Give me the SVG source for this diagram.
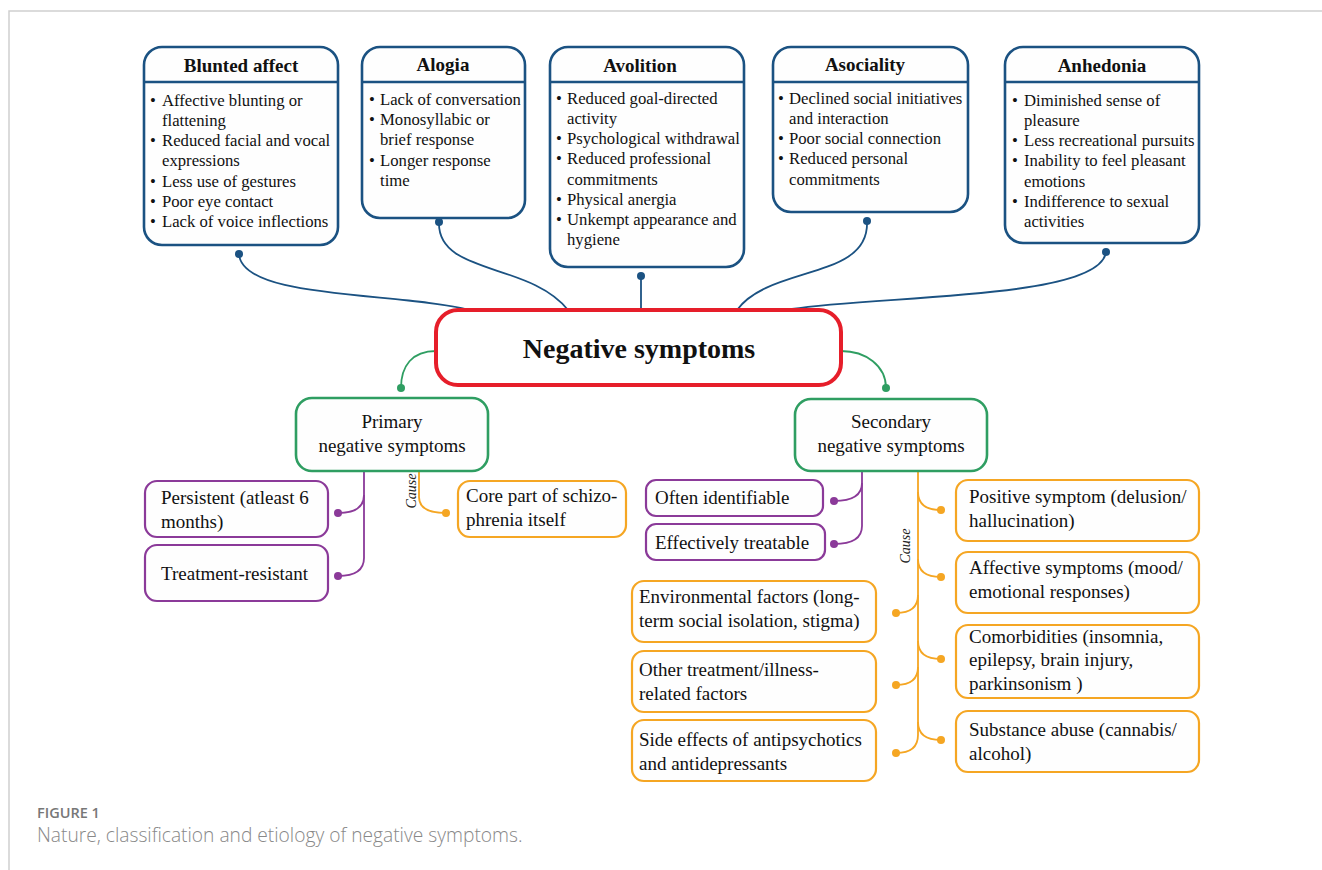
<svg xmlns="http://www.w3.org/2000/svg" width="1322" height="870" viewBox="0 0 1322 870">
<style>
.frame{fill:none;stroke:#cfcfcf;stroke-width:1.5}
.top{fill:#fefefe;stroke:#1b5282;stroke-width:2.6}
.div{stroke:#1b5282;stroke-width:2.6}
.ttl{font-family:"Liberation Serif",serif;font-weight:bold;font-size:19px;fill:#111;text-anchor:middle}
.bl{font-family:"Liberation Serif",serif;font-size:16.7px;fill:#111}
.main{fill:#fff;stroke:#e61e2a;stroke-width:4}
.mt{font-family:"Liberation Serif",serif;font-weight:bold;font-size:28px;fill:#111;text-anchor:middle}
.gb{fill:#fefefe;stroke:#2f9e62;stroke-width:2.6}
.pb{fill:#fefefe;stroke:#8b3a99;stroke-width:2.2}
.ob{fill:#fefefe;stroke:#f5a623;stroke-width:2.2}
.t{font-family:"Liberation Serif",serif;font-size:19px;fill:#111}
.tc{text-anchor:middle}
.cause{font-family:"Liberation Serif",serif;font-style:italic;font-size:14px;fill:#222;text-anchor:middle}
.cb{fill:none;stroke:#1b5282;stroke-width:1.8}
.cg{fill:none;stroke:#2f9e62;stroke-width:1.8}
.cp{fill:none;stroke:#8b3a99;stroke-width:1.8}
.co{fill:none;stroke:#f5a623;stroke-width:1.8}
.db{fill:#1b5282}.dg{fill:#2f9e62}.dp{fill:#8b3a99}.do{fill:#f5a623}
.cap1{font-family:"Open Sans","Liberation Sans",sans-serif;font-weight:600;font-size:14.5px;fill:#777}
.cap2{font-family:"Open Sans","Liberation Sans",sans-serif;font-weight:300;font-size:19.2px;fill:#888}
</style>
<rect width="1322" height="870" fill="#fff"/>
<path class="frame" d="M1322,11 H9 V870"/>

<g id="connectors">
  <path class="cb" d="M239,254 C242,300 400,292 470,310"/>
  <path class="cb" d="M439,222 C437,275 530,262 568,310"/>
  <path class="cb" d="M641,276 V310"/>
  <path class="cb" d="M867,221 C870,280 770,265 737,310"/>
  <path class="cb" d="M1106,252 C1100,300 880,295 792,309"/>
  <circle class="db" cx="239" cy="254" r="4"/>
  <circle class="db" cx="439" cy="222" r="4"/>
  <circle class="db" cx="641" cy="276" r="4"/>
  <circle class="db" cx="867" cy="221" r="4"/>
  <circle class="db" cx="1106" cy="252" r="4"/>

  <path class="cg" d="M436,351 C412,351 401,366 401,388"/>
  <path class="cg" d="M841,351 C866,351 886,366 886,388"/>
  <circle class="dg" cx="401" cy="388" r="4"/>
  <circle class="dg" cx="886" cy="388" r="4"/>

  <path class="cp" d="M364,471 V558 Q364,576 338,576"/>
  <path class="cp" d="M364,495 Q364,513 338,513"/>
  <circle class="dp" cx="338" cy="513" r="4"/>
  <circle class="dp" cx="338" cy="576" r="4"/>

  <path class="co" d="M419,471 V497 Q419,513 446,513"/>
  <circle class="do" cx="446" cy="513" r="4"/>
  <text class="cause" transform="translate(416,491) rotate(-90)">Cause</text>

  <path class="cp" d="M862,471 V526 Q862,544 834,544"/>
  <path class="cp" d="M862,483 Q862,501 834,501"/>
  <circle class="dp" cx="834" cy="501" r="4"/>
  <circle class="dp" cx="834" cy="544" r="4"/>

  <path class="co" d="M918,471 V735 Q918,753 896,753"/>
  <path class="co" d="M918,492 Q918,510 941,510"/>
  <path class="co" d="M918,559 Q918,577 941,577"/>
  <path class="co" d="M918,641 Q918,659 941,659"/>
  <path class="co" d="M918,722 Q918,740 941,740"/>
  <path class="co" d="M918,595 Q918,613 896,613"/>
  <path class="co" d="M918,667 Q918,685 896,685"/>
  <circle class="do" cx="941" cy="510" r="4"/>
  <circle class="do" cx="941" cy="577" r="4"/>
  <circle class="do" cx="941" cy="659" r="4"/>
  <circle class="do" cx="941" cy="740" r="4"/>
  <circle class="do" cx="896" cy="613" r="4"/>
  <circle class="do" cx="896" cy="685" r="4"/>
  <circle class="do" cx="896" cy="753" r="4"/>
  <text class="cause" transform="translate(910,546) rotate(-90)">Cause</text>
</g>

<g id="blunted">
  <rect class="top" x="144" y="47" width="194" height="198" rx="18"/>
  <line class="div" x1="144" y1="82" x2="338" y2="82"/>
  <text class="ttl" x="241" y="72">Blunted affect</text>
  <g class="bl">
    <text x="150" y="106">•</text><text x="162" y="106">Affective blunting or</text>
    <text x="162" y="126">flattening</text>
    <text x="150" y="146">•</text><text x="162" y="146">Reduced facial and vocal</text>
    <text x="162" y="166">expressions</text>
    <text x="150" y="187">•</text><text x="162" y="187">Less use of gestures</text>
    <text x="150" y="207">•</text><text x="162" y="207">Poor eye contact</text>
    <text x="150" y="227">•</text><text x="162" y="227">Lack of voice inflections</text>
  </g>
</g>

<g id="alogia">
  <rect class="top" x="362" y="47" width="163" height="171" rx="18"/>
  <line class="div" x1="362" y1="82" x2="525" y2="82"/>
  <text class="ttl" x="443" y="71">Alogia</text>
  <g class="bl">
    <text x="369" y="105">•</text><text x="380" y="105">Lack of conversation</text>
    <text x="369" y="125">•</text><text x="380" y="125">Monosyllabic or</text>
    <text x="380" y="145">brief response</text>
    <text x="369" y="166">•</text><text x="380" y="166">Longer response</text>
    <text x="380" y="186">time</text>
  </g>
</g>

<g id="avolition">
  <rect class="top" x="550" y="47" width="194" height="220" rx="18"/>
  <line class="div" x1="550" y1="82" x2="744" y2="82"/>
  <text class="ttl" x="640" y="72">Avolition</text>
  <g class="bl">
    <text x="556" y="104">•</text><text x="567" y="104">Reduced goal-directed</text>
    <text x="567" y="124">activity</text>
    <text x="556" y="144">•</text><text x="567" y="144">Psychological withdrawal</text>
    <text x="556" y="164">•</text><text x="567" y="164">Reduced professional</text>
    <text x="567" y="185">commitments</text>
    <text x="556" y="205">•</text><text x="567" y="205">Physical anergia</text>
    <text x="556" y="225">•</text><text x="567" y="225">Unkempt appearance and</text>
    <text x="567" y="245">hygiene</text>
  </g>
</g>

<g id="asociality">
  <rect class="top" x="773" y="47" width="195" height="165" rx="18"/>
  <line class="div" x1="773" y1="82" x2="968" y2="82"/>
  <text class="ttl" x="865" y="71">Asociality</text>
  <g class="bl">
    <text x="778" y="104">•</text><text x="789" y="104">Declined social initiatives</text>
    <text x="789" y="124">and interaction</text>
    <text x="778" y="144">•</text><text x="789" y="144">Poor social connection</text>
    <text x="778" y="164">•</text><text x="789" y="164">Reduced personal</text>
    <text x="789" y="185">commitments</text>
  </g>
</g>

<g id="anhedonia">
  <rect class="top" x="1005" y="47" width="194" height="196" rx="18"/>
  <line class="div" x1="1005" y1="82" x2="1199" y2="82"/>
  <text class="ttl" x="1102" y="72">Anhedonia</text>
  <g class="bl">
    <text x="1012" y="106">•</text><text x="1024" y="106">Diminished sense of</text>
    <text x="1024" y="126">pleasure</text>
    <text x="1012" y="146">•</text><text x="1024" y="146">Less recreational pursuits</text>
    <text x="1012" y="166">•</text><text x="1024" y="166">Inability to feel pleasant</text>
    <text x="1024" y="187">emotions</text>
    <text x="1012" y="207">•</text><text x="1024" y="207">Indifference to sexual</text>
    <text x="1024" y="227">activities</text>
  </g>
</g>

<g id="negative">
  <rect class="main" x="436" y="310" width="405" height="75" rx="22"/>
  <text class="mt" x="639" y="358">Negative symptoms</text>
</g>

<g id="primary">
  <rect class="gb" x="296" y="398" width="192" height="73" rx="16"/>
  <text class="t tc" x="392" y="428">Primary</text>
  <text class="t tc" x="392" y="452">negative symptoms</text>
</g>

<g id="secondary">
  <rect class="gb" x="795" y="399" width="192" height="72" rx="16"/>
  <text class="t tc" x="891" y="428">Secondary</text>
  <text class="t tc" x="891" y="452">negative symptoms</text>
</g>

<g id="persistent">
  <rect class="pb" x="145" y="481" width="183" height="56" rx="12"/>
  <text class="t" x="161" y="504">Persistent (atleast 6</text>
  <text class="t" x="161" y="528">months)</text>
</g>
<g id="treatment-resistant">
  <rect class="pb" x="145" y="545" width="183" height="56" rx="12"/>
  <text class="t" x="161" y="580">Treatment-resistant</text>
</g>
<g id="core">
  <rect class="ob" x="458" y="481" width="168" height="56" rx="12"/>
  <text class="t" x="466" y="502">Core part of schizo-</text>
  <text class="t" x="466" y="526">phrenia itself</text>
</g>

<g id="often">
  <rect class="pb" x="646" y="480" width="177" height="36" rx="10"/>
  <text class="t" x="655" y="504">Often identifiable</text>
</g>
<g id="effectively">
  <rect class="pb" x="646" y="524" width="179" height="36" rx="10"/>
  <text class="t" x="655" y="549">Effectively treatable</text>
</g>

<g id="positive">
  <rect class="ob" x="956" y="480" width="243" height="61" rx="12"/>
  <text class="t" x="969" y="503">Positive symptom (delusion/</text>
  <text class="t" x="969" y="527">hallucination)</text>
</g>
<g id="affective">
  <rect class="ob" x="956" y="552" width="243" height="61" rx="12"/>
  <text class="t" x="969" y="574">Affective symptoms (mood/</text>
  <text class="t" x="969" y="598">emotional responses)</text>
</g>
<g id="comorbidities">
  <rect class="ob" x="956" y="625" width="243" height="73" rx="12"/>
  <text class="t" x="969" y="643">Comorbidities (insomnia,</text>
  <text class="t" x="969" y="666">epilepsy, brain injury,</text>
  <text class="t" x="969" y="690">parkinsonism )</text>
</g>
<g id="substance">
  <rect class="ob" x="956" y="711" width="243" height="61" rx="12"/>
  <text class="t" x="969" y="736">Substance abuse (cannabis/</text>
  <text class="t" x="969" y="760">alcohol)</text>
</g>

<g id="environmental">
  <rect class="ob" x="632" y="581" width="244" height="61" rx="12"/>
  <text class="t" x="639" y="603">Environmental factors (long-</text>
  <text class="t" x="639" y="627">term social isolation, stigma)</text>
</g>
<g id="other">
  <rect class="ob" x="632" y="651" width="244" height="61" rx="12"/>
  <text class="t" x="639" y="676">Other treatment/illness-</text>
  <text class="t" x="639" y="700">related factors</text>
</g>
<g id="side-effects">
  <rect class="ob" x="632" y="720" width="244" height="61" rx="12"/>
  <text class="t" x="639" y="746">Side effects of antipsychotics</text>
  <text class="t" x="639" y="770">and antidepressants</text>
</g>

<g id="caption">
  <text class="cap1" x="37" y="818">FIGURE 1</text>
  <text class="cap2" x="37" y="842">Nature, classification and etiology of negative symptoms.</text>
</g>
</svg>
